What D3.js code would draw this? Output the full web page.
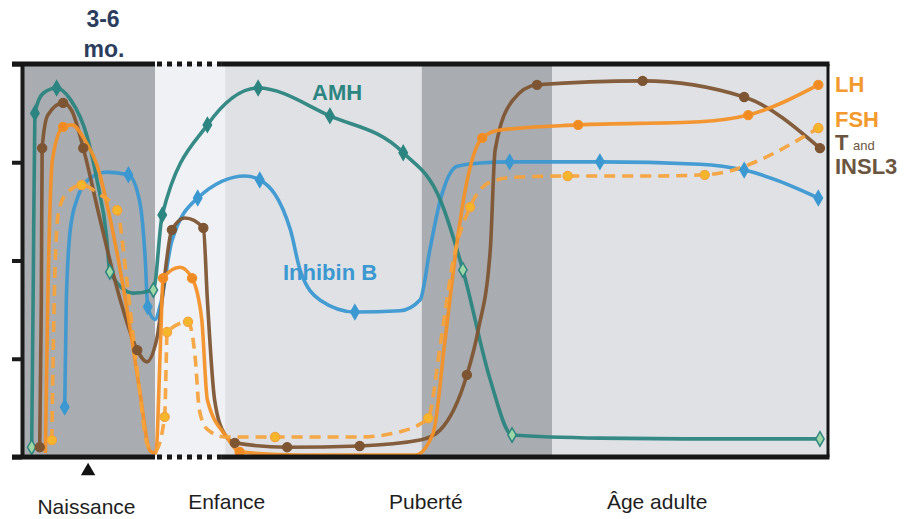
<!DOCTYPE html>
<html><head><meta charset="utf-8">
<script src="https://cdn.jsdelivr.net/npm/d3@7"></script>
<style>html,body{margin:0;padding:0;background:#fff;} svg{display:block;}</style>
</head><body><svg id="c" width="911" height="519"></svg>
<script>
// ---- data (x: relative age 0-100, y: relative level 0-100; 3rd value: 1 = marker, 2 = open marker)
const yTicks = [0, 25, 50, 75, 100];
const phaseBounds = [0, 16.5, 25.2, 49.6, 65.8, 100];
const phaseLabels = ["Naissance", "Enfance", "Puberté", "Âge adulte"];
const phaseLabelX = [8.0, 25.4, 50.1, 78.8];
const birthX = 8.2;
const gapRange = [16.5, 24.8];

const amh = [[1.2,2.5,2],[1.4,45,0],[1.6,87.5,1],[2.6,92.5,0],[4.3,93.9,1],[6.0,91,0],[8.1,81.4,0],[9.3,70.5,0],[10.5,56,0],[10.9,47.1,2],[13.8,41.7,0],[16.3,42.5,2],[17.4,61.6,1],[23.0,84.5,1],[29.3,93.9,1],[38.2,86.8,1],[47.3,77.4,1],[51.9,65.4,0],[54.7,47.6,2],[58.1,19.6,0],[60.8,5.6,2],[71.7,4.8,0],[84.1,4.6,0],[99.0,4.6,2]];
const inhibinB = [[5.3,12.7,1],[5.5,40,0],[6.0,58,0],[6.9,66,0],[8.5,71,0],[10.5,72.5,0],[13.2,71.8,1],[14.6,65,0],[15.3,50,0],[15.6,38.2,1],[16.5,35,0],[17.2,39,0],[18.6,55,0],[21.8,65.9,1],[27.7,71.5,0],[29.5,70.5,1],[33.3,57.8,0],[34.5,47.6,0],[37.0,39.9,0],[41.3,36.9,1],[46.9,37.2,0],[49.4,40,0],[50.6,52.7,0],[51.9,65.4,0],[54.0,74.0,0],[56.8,74.8,0],[60.5,75.1,1],[71.7,75.1,1],[84.1,74.5,0],[89.6,73.0,1],[98.8,65.9,1]];
const tInsl3 = [[2.2,2.5,1],[2.4,40,0],[2.5,78.6,1],[3.2,87,0],[5.1,90.1,1],[6.2,88,0],[7.6,78.6,1],[9.7,60.3,0],[12.2,39.9,0],[14.3,27.2,1],[15.5,24.2,0],[16.7,29.8,0],[18.6,57.8,1],[20.2,60.8,0],[22.5,58.3,1],[23.0,40,0],[23.9,14.5,0],[25.2,5.6,0],[26.4,3.6,1],[32.9,2.5,1],[41.9,2.8,1],[49.4,4.3,0],[51.9,6.9,0],[55.2,20.9,1],[56.6,32.3,0],[58.1,52.7,0],[58.7,78.1,0],[60.9,90.8,0],[63.9,94.7,1],[77.0,95.7,1],[89.6,91.6,1],[99.0,78.6,1]];
const lh = [[2.9,1.0,0],[3.2,40,0],[3.8,76,0],[5.1,84.0,1],[6.2,84.5,0],[7.7,81,0],[9.5,73,0],[11.0,60,0],[13.0,38,0],[14.6,17,0],[15.9,1.5,0],[16.6,1.0,0],[17.2,30,0],[17.5,45.5,1],[19.6,48.3,0],[21.1,45.5,1],[22.3,35,0],[23.0,14.5,0],[25.4,5.1,0],[27.0,1.3,1],[34.5,0.5,0],[48.8,0.5,0],[51.0,6,0],[52.5,30,0],[54.0,55,0],[55.0,68,0],[57.1,81.2,1],[59.3,83.2,0],[69.0,84.5,1],[84.1,85.3,0],[90.1,87.0,1],[98.8,94.7,1]];
const fsh = [[3.7,4.3,1],[4.0,40,0],[4.5,62,0],[5.5,67,0],[7.4,69.2,1],[9.5,67,0],[11.8,62.8,1],[13.0,45,0],[14.3,22,0],[15.6,3,0],[16.5,1.5,0],[17.7,10.2,1],[17.9,25,0],[18.0,31.8,1],[20.6,34.4,1],[21.5,25,0],[22.0,12,0],[23.0,7,0],[25.2,5.1,0],[31.4,5.1,1],[41.9,5.1,0],[47.0,6.5,0],[49.5,8.5,0],[50.4,9.9,1],[52.0,30,0],[53.5,50,0],[55.6,63.6,1],[58.1,70.0,0],[61.2,71.2,0],[67.7,71.5,1],[77.9,71.5,0],[84.7,71.8,1],[98.8,83.7,1]];

// ---- layout
const svg = d3.select("#c");
const x = d3.scaleLinear().domain([0, 100]).range([22, 828]);
const y = d3.scaleLinear().domain([0, 100]).range([457, 64]);

// phase backgrounds
const shades = ["#a9acb0", "#eff1f5", "#dfe1e5", "#a9acb0", "#dfe1e5"];
svg.append("g").selectAll("rect").data(d3.pairs(phaseBounds)).join("rect")
  .attr("x", d => x(d[0])).attr("width", d => x(d[1]) - x(d[0]))
  .attr("y", y(100)).attr("height", y(0) - y(100))
  .attr("fill", (d, i) => shades[i]);

// series
const line = d3.line().x(d => x(d[0])).y(d => y(d[1])).curve(d3.curveMonotoneX);
const series = [
  {data: inhibinB, color: "#3b98d1", dash: null, shape: "diamond", fill: "#3b98d1"},
  {data: amh, color: "#2c8580", dash: null, shape: "diamond", fill: "#2c8580", open: "#9fd6a6"},
  {data: tInsl3, color: "#7e5533", dash: null, shape: "circle", fill: "#7e5533"},
  {data: lh, color: "#f39128", dash: null, shape: "circle", fill: "#f08a22"},
  {data: fsh, color: "#f5a23c", dash: "11,7", shape: "circle", fill: "#f6b62c"}
];
series.forEach(s => {
  svg.append("path").datum(s.data).attr("d", line)
    .attr("fill", "none").attr("stroke", s.color).attr("stroke-width", 3.6)
    .attr("stroke-linejoin", "round").attr("stroke-linecap", "butt")
    .attr("stroke-dasharray", s.dash).attr("opacity", 0.95);
});
series.forEach(s => {
  const pts = s.data.filter(d => d[2] > 0);
  const g = svg.append("g");
  if (s.shape === "diamond") {
    g.selectAll("path").data(pts).join("path")
      .attr("d", d3.symbol(d3.symbolDiamond, 60)())
      .attr("transform", d => `translate(${x(d[0])},${y(d[1])})`)
      .attr("fill", d => d[2] === 2 ? s.open : s.fill)
      .attr("stroke", s.color).attr("stroke-width", 1.5);
  } else {
    g.selectAll("circle").data(pts).join("circle")
      .attr("cx", d => x(d[0])).attr("cy", d => y(d[1])).attr("r", 4.6)
      .attr("fill", s.fill).attr("stroke", s.color).attr("stroke-width", 1.2);
  }
});

// axes & frame
const axis = svg.append("g").attr("transform", `translate(${x(0)},0)`)
  .call(d3.axisLeft(y).tickValues(yTicks).tickSize(10).tickSizeOuter(0).tickFormat(""));
axis.select(".domain").attr("stroke", "#1b1b1b").attr("stroke-width", 4);
axis.selectAll(".tick line").attr("stroke", "#1b1b1b").attr("stroke-width", 4);

function hline(yv, x0, x1, dash, w) {
  svg.append("line").attr("x1", x0).attr("x2", x1).attr("y1", y(yv)).attr("y2", y(yv))
    .attr("stroke", "#161616").attr("stroke-width", w).attr("stroke-dasharray", dash);
}
[0, 100].forEach(v => {
  const w = 5;
  hline(v, x(0) - 10, x(gapRange[0]), null, w);
  hline(v, x(gapRange[0]) + 2, x(gapRange[1]), "5,5", w);
  hline(v, x(gapRange[1]), x(100) + 1.5, null, w);
});
svg.append("line").attr("x1", x(100)).attr("x2", x(100)).attr("y1", y(100)).attr("y2", y(0))
  .attr("stroke", "#161616").attr("stroke-width", 3);

// birth marker
svg.append("path").attr("d", d3.symbol(d3.symbolTriangle, 90)())
  .attr("transform", `translate(${x(birthX)},${y(0) + 14})`).attr("fill", "#111");

// phase labels
svg.append("g").selectAll("text").data(phaseLabels).join("text")
  .attr("x", (d, i) => x(phaseLabelX[i])).attr("y", (d, i) => i === 0 ? 514 : 509)
  .attr("text-anchor", "middle").attr("font-family", "Liberation Sans, Arial, sans-serif")
  .attr("font-size", 21).attr("fill", "#1e1e1e").text(d => d);

// annotations
const bold = "Liberation Sans, Arial, sans-serif";
function txt(t, px, py, size, color, weight, anchor) {
  return svg.append("text").attr("x", px).attr("y", py).attr("font-family", bold)
    .attr("font-size", size).attr("font-weight", weight || "bold").attr("fill", color)
    .attr("text-anchor", anchor || "start").text(t);
}
txt("3-6", 103, 27, 23, "#2b3d5c", "bold", "middle");
txt("mo.", 104, 57, 23, "#2b3d5c", "bold", "middle");
txt("AMH", 312, 100, 22, "#2c8580");
txt("Inhibin B", 283, 280, 22, "#3b98d1");
txt("LH", 835, 92, 22, "#f39a2e");
txt("FSH", 835, 127, 22, "#f39a2e");
txt("T", 835, 150, 22, "#6b5540");
txt("and", 853, 150, 13, "#6b5540", "normal");
txt("INSL3", 835, 174, 22, "#6b5540");
</script>
</body></html>
